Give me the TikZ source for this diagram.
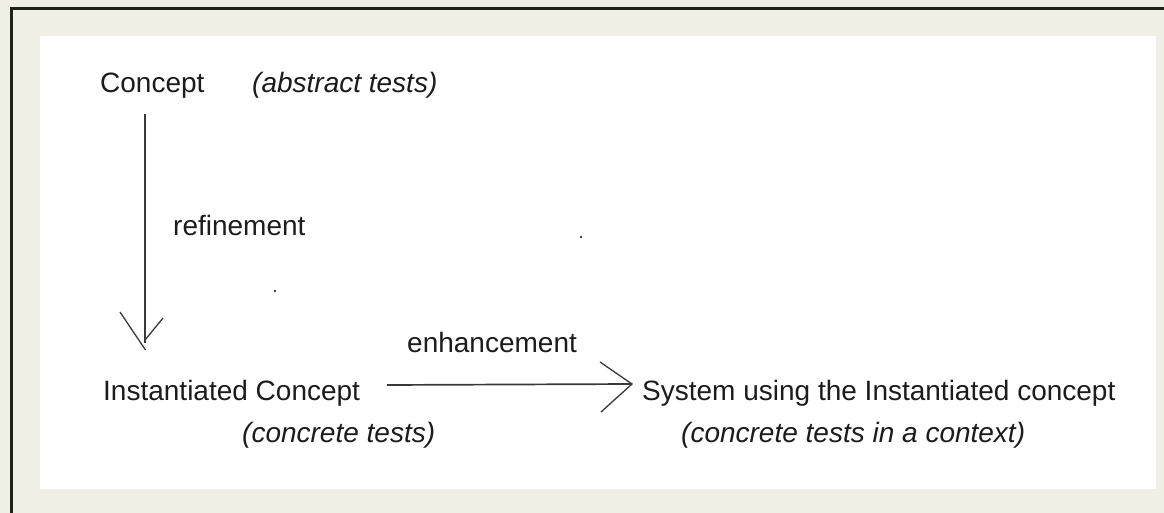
\documentclass[tikz,border=0pt]{standalone}
\usepackage{fontspec}
\setmainfont{Liberation Sans}
\definecolor{pagebg}{HTML}{F0EFE5}
\definecolor{frameline}{HTML}{1A2418}
\definecolor{ink}{HTML}{1C1C1C}
\definecolor{stroke}{HTML}{3A3A3A}
\begin{document}
\begin{tikzpicture}[x=1pt,y=-1pt,
  lbl/.style={inner sep=0pt, anchor=base west, text=ink, font=\fontsize{28}{33}\selectfont},
  ilbl/.style={lbl, font=\fontsize{28}{33}\selectfont\itshape},
  shaft/.style={draw=stroke, line width=1.7pt},
  barb/.style={draw=stroke, line width=1.3pt}]
\useasboundingbox (0,0) rectangle (1164,513);
\fill[pagebg] (0,0) rectangle (1164,513);
\fill[white] (40,36) rectangle (1156,489);
\draw[frameline, line width=2.2pt] (11.5,513) -- (11.5,8.5) -- (1164,8.5);

\node[lbl]  (concept)  at (100,93)  {Concept};
\node[ilbl] (abstract) at (252,93)  {(abstract tests)};
\node[lbl]  (refine)   at (173,235) {refinement};
\node[lbl]  (enhance)  at (407,352) {enhancement};
\node[lbl]  (inst)     at (103,400) {Instantiated Concept};
\node[ilbl] (concr)    at (242,442) {(concrete tests)};
\node[lbl]  (system)   at (642,400) {System using the Instantiated concept};
\node[ilbl] (context)  at (681,442) {(concrete tests in a context)};

% refinement arrow
\coordinate (vtop) at (145,114);
\coordinate (vtip) at (145,343);
\draw[shaft] (vtop) -- (vtip);
\draw[barb] (120,312) -- (145.5,350);
\draw[barb] (145,340) -- (163,318);

% enhancement arrow
\coordinate (hstart) at (387,385);
\coordinate (htip) at (632,384);
\draw[shaft] (hstart) -- (htip);
\draw[barb] (600,362) -- (htip) -- (601,412);

% stray dots
\fill[stroke] (581,237) circle (1.2);
\fill[stroke] (275,291) circle (1.2);
\end{tikzpicture}
\end{document}
